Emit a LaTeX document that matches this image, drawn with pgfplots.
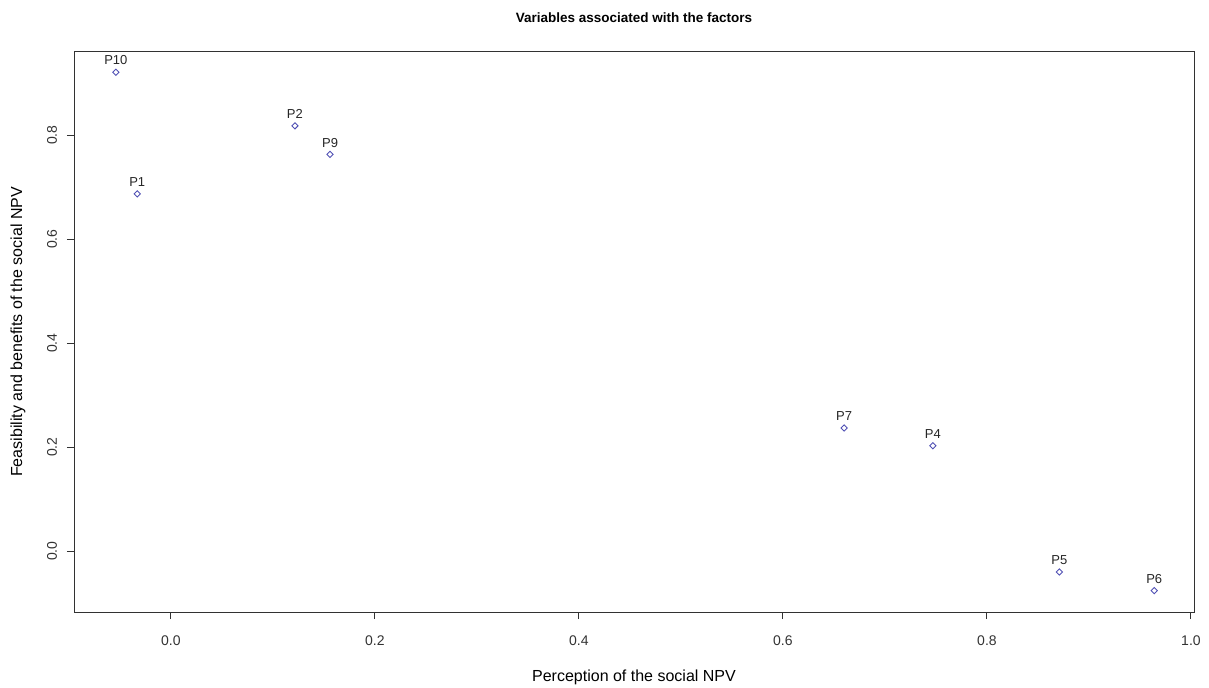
\documentclass[border=0pt]{standalone}
\usepackage{pgfplots}
\pgfplotsset{compat=1.18}
\usepackage{fontspec}
\setmainfont{Liberation Sans}
\definecolor{markblue}{RGB}{80,80,180}
\definecolor{frame}{RGB}{50,50,50}

\begin{document}
\begin{tikzpicture}
\begin{axis}[
    scale only axis,
    width=1120bp, height=560bp,
    xmin=-0.095, xmax=1.003,
    ymin=-0.117, ymax=0.96,
    axis line style={frame, line width=1bp},
    tick style={frame, line width=1bp},
    tick align=outside,
    major tick length=7bp,
    xtick pos=bottom, ytick pos=left,
    xtick={0,0.2,0.4,0.6,0.8,1.0},
    ytick={0,0.2,0.4,0.6,0.8},
    /pgf/number format/assume math mode=true,
    /pgf/number format/.cd, fixed, fixed zerofill, precision=1, /pgfplots/.cd,
    tick label style={font=\fontsize{14bp}{16bp}\selectfont, text=black!80},
    xticklabel style={anchor=center, yshift=-22bp},
    yticklabel style={rotate=90, anchor=center, yshift=15bp},
    title={Variables associated with the factors},
    title style={font=\fontsize{13.5bp}{15bp}\selectfont\bfseries, anchor=center,
        at={(axis description cs:0.5,1)}, yshift=28bp},
    xlabel={Perception of the social NPV},
    ylabel={Feasibility and benefits of the social NPV},
    xlabel style={font=\fontsize{16bp}{18bp}\selectfont, anchor=center,
        at={(axis description cs:0.5,0)}, yshift=-65bp},
    ylabel style={font=\fontsize{16bp}{18bp}\selectfont, anchor=center,
        at={(axis description cs:0,0.5)}, yshift=56bp},
]
\addplot[only marks, mark=square, mark size=2.2bp, color=markblue,
    mark options={line width=0.9bp, rotate=45},
    nodes near coords, point meta=explicit symbolic,
    nodes near coords style={font=\fontsize{13bp}{15bp}\selectfont,
        text=black!85, anchor=south, yshift=3.5bp}]
table[meta=label] {
x y label
-0.054 0.921 P10
-0.033 0.687 P1
0.1216 0.818 P2
0.156 0.763 P9
0.660 0.237 P7
0.747 0.2026 P4
0.871 -0.040 P5
0.964 -0.076 P6
};
\end{axis}
\path[use as bounding box] (-74bp,-72bp) rectangle (1135bp,612bp);
\end{tikzpicture}
\end{document}
